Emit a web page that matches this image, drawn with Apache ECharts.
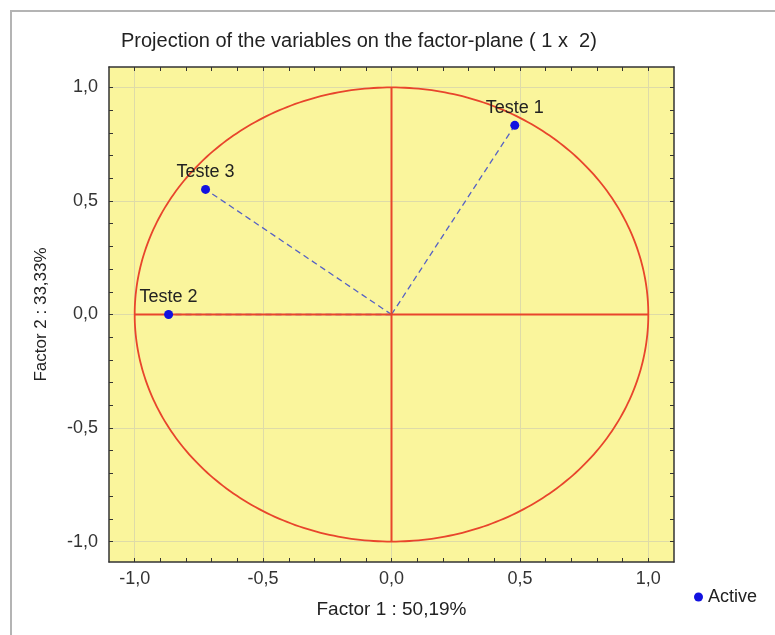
<!DOCTYPE html>
<html>
<head>
<meta charset="utf-8">
<script src="https://cdn.jsdelivr.net/npm/echarts@6/dist/echarts.min.js"></script>
<style>html,body{margin:0;padding:0;background:#fff;}#c{width:775px;height:635px;}</style>
</head>
<body>
<div id="c"></div>
<script>
// ---- data ----
var pointNames = ['Teste 1', 'Teste 2', 'Teste 3'];
var factor1 = [0.48, -0.868, -0.724];
var factor2 = [0.833, 0.0, 0.551];
var majorTicks = [-1.0, -0.5, 0.0, 0.5, 1.0];
var minorTicks = [-1.0, -0.9, -0.8, -0.7, -0.6, -0.5, -0.4, -0.3, -0.2, -0.1, 0.0,
                  0.1, 0.2, 0.3, 0.4, 0.5, 0.6, 0.7, 0.8, 0.9, 1.0];
var axisMin = -1.1, axisMaxX = 1.1, axisMinY = -1.09, axisMaxY = 1.09;
var horizLine = [[-1, 0], [1, 0]];
var vertLine = [[0, -1], [0, 1]];
var unitCircle = [[0, 0, 1]]; // centre x, centre y, radius
var titleText = 'Projection of the variables on the factor-plane ( 1 x  2)';
var xName = 'Factor 1 : 50,19%';
var yName = 'Factor 2 : 33,33%';
var legendName = 'Active';

var FONT = "'Liberation Sans', Arial, sans-serif";
var chart = echarts.init(document.getElementById('c'));
function fmt(v) { return (Math.round(v * 10) / 10).toFixed(1).replace('.', ','); }

function mkX(i, pos, opts) {
  return Object.assign({
    type: 'value', gridIndex: 0, position: pos, min: axisMin, max: axisMaxX,
    axisLine: { show: false, onZero: false }, axisLabel: { show: false }, axisTick: { show: false },
    splitLine: { show: false }
  }, opts);
}
function mkY(i, pos, opts) {
  return Object.assign({
    type: 'value', gridIndex: 0, position: pos, min: axisMinY, max: axisMaxY,
    axisLine: { show: false, onZero: false }, axisLabel: { show: false }, axisTick: { show: false },
    splitLine: { show: false }
  }, opts);
}
var borderLine = { show: true, onZero: false, lineStyle: { color: '#333', width: 1.5 } };
var minorTickStyle = { show: true, inside: true, length: 4, customValues: minorTicks, lineStyle: { color: '#333', width: 1 } };
var gridLineStyle = { show: true, lineStyle: { color: '#dedba8', width: 1 } };

var dashed = [];
for (var i = 0; i < pointNames.length; i++) {
  dashed.push({
    type: 'line', silent: true, symbol: 'none', z: 1,
    data: [[0, 0], [factor1[i], factor2[i]]],
    lineStyle: { color: '#5561c4', width: 1.3, type: [6, 4] }
  });
}
var redStyle = { color: '#e8452c', width: 2 };

var option = {
  animation: false,
  backgroundColor: '#ffffff',
  textStyle: { fontFamily: FONT },
  title: {
    text: titleText, left: 121, top: 31, padding: 0,
    textStyle: { fontSize: 20, fontWeight: 'normal', color: '#222', fontFamily: FONT }
  },
  grid: { left: 109, top: 67, width: 565, height: 495, outerBoundsMode: 'none', containLabel: false,
          show: true, backgroundColor: '#faf59c', borderWidth: 0 },
  legend: {
    data: [legendName], left: 689, top: 583, icon: 'circle', itemWidth: 9, itemHeight: 9, itemGap: 10,
    textStyle: { fontSize: 18, color: '#222', fontFamily: FONT }
  },
  graphic: [{
    type: 'rect', silent: true, z: -10,
    shape: { x: 11, y: 11, width: 800, height: 700 },
    style: { fill: 'none', stroke: '#b4b4b4', lineWidth: 2 }
  }],
  xAxis: [
    mkX(0, 'bottom', {
      axisLine: borderLine,
      axisTick: { show: false, customValues: majorTicks },
      splitLine: gridLineStyle,
      name: xName, nameLocation: 'middle', nameGap: 38,
      nameTextStyle: { fontSize: 19, color: '#222', fontFamily: FONT },
      axisLabel: { show: true, customValues: majorTicks, margin: 8, fontSize: 18, color: '#333', fontFamily: FONT, formatter: fmt }
    }),
    mkX(1, 'bottom', { axisTick: minorTickStyle }),
    mkX(2, 'top', { axisLine: borderLine, axisTick: minorTickStyle })
  ],
  yAxis: [
    mkY(0, 'left', {
      axisLine: borderLine,
      axisTick: { show: false, customValues: majorTicks },
      splitLine: gridLineStyle,
      name: yName, nameLocation: 'middle', nameGap: 59, nameRotate: 90,
      nameTextStyle: { fontSize: 17, color: '#222', fontFamily: FONT },
      axisLabel: { show: true, customValues: majorTicks, margin: 11, fontSize: 18, color: '#333', fontFamily: FONT, formatter: fmt }
    }),
    mkY(1, 'left', { axisTick: minorTickStyle }),
    mkY(2, 'right', { axisLine: borderLine, axisTick: minorTickStyle })
  ],
  series: dashed.concat([
    {
      type: 'custom', silent: true, z: 4, data: unitCircle,
      renderItem: function (params, api) {
        var cx = api.value(0), cy = api.value(1), r = api.value(2);
        var pts = [];
        for (var k = 0; k <= 360; k++) {
          var a = k * Math.PI / 180;
          pts.push(api.coord([cx + r * Math.cos(a), cy + r * Math.sin(a)]));
        }
        return { type: 'polyline', shape: { points: pts }, style: { fill: 'none', stroke: redStyle.color, lineWidth: 1.8 } };
      }
    },
    { type: 'line', silent: true, symbol: 'none', z: 4, data: horizLine, lineStyle: redStyle },
    { type: 'line', silent: true, symbol: 'none', z: 4, data: vertLine, lineStyle: redStyle },
    {
      name: legendName, type: 'scatter', z: 5, symbolSize: 9,
      itemStyle: { color: '#1212e0', opacity: 1 },
      data: pointNames.map(function (n, i) { return { name: n, value: [factor1[i], factor2[i]] }; }),
      label: { show: true, position: 'top', distance: 4, formatter: '{b}', fontSize: 18, color: '#222', fontFamily: FONT }
    }
  ])
};
chart.setOption(option);
</script>
</body>
</html>
